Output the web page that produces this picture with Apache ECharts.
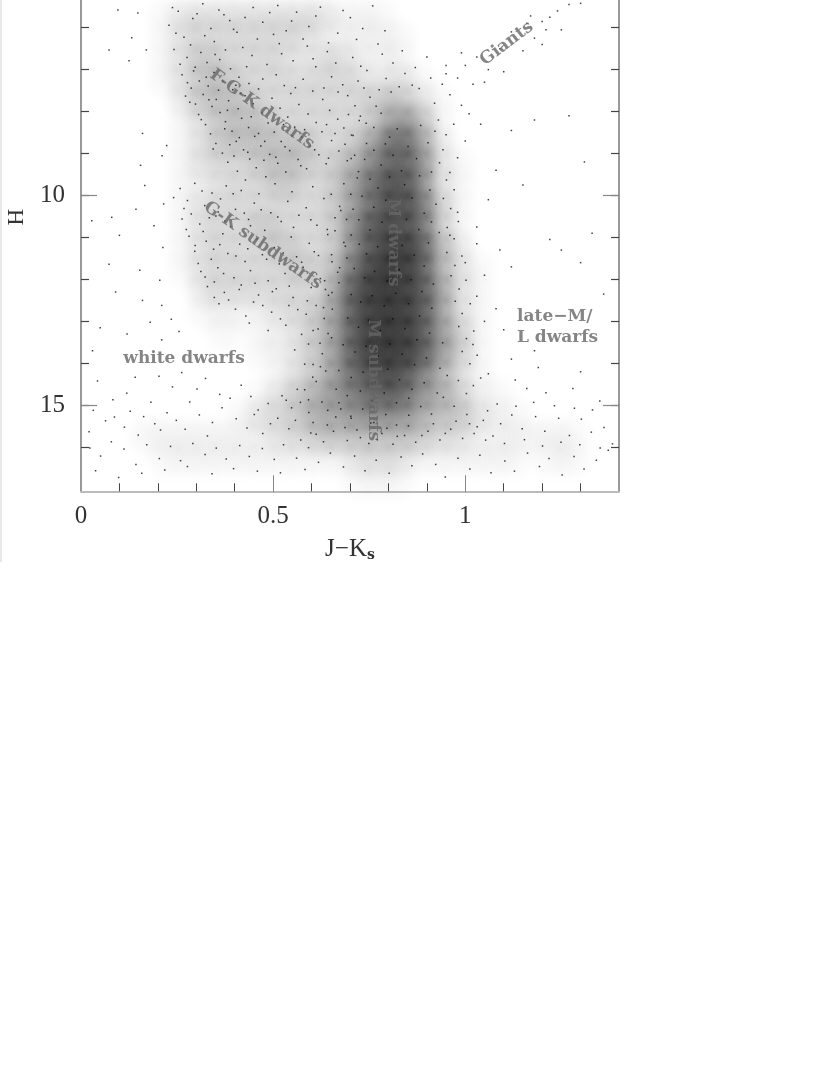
<!DOCTYPE html>
<html>
<head>
<meta charset="utf-8">
<title>H vs J-Ks</title>
<style>
    html, body { margin: 0; padding: 0; background: #fff; }
    #main { width: 830px; height: 1075px; }
</style>
</head>
<body>
<div id="main"></div>
<script src="https://cdn.jsdelivr.net/npm/echarts@6/dist/echarts.min.js"></script>
<script type="text/javascript">
// darkness of the star cloud, 0 (white) to 9 (black)
var densityCols = [.025,.075,.125,.175,.225,.275,.325,.375,.425,.475,.525,.575,.625,.675,.725,.775,.825,.875,.925,.975,1.025,1.075,1.125,1.175,1.225,1.275,1.325,1.375];
var densityRows = [5.25,5.75,6.25,6.75,7.25,7.75,8.25,8.75,9.25,9.75,10.25,10.75,11.25,11.75,12.25,12.75,13.25,13.75,14.25,14.75,15.25,15.75,16.25,16.75];
var density = [
    [0,0,0,0,1,2,2,2,2,2,2,2,2,1,1,1,0,0,0,0,0,0,0,0,0,0,0,0],
    [0,0,0,0,1,2,2,2,2,2,2,2,2,1,1,1,0,0,0,0,0,0,0,0,0,0,0,0],
    [0,0,0,0,1,2,2,2,2,2,2,2,1,1,1,1,1,0,0,0,0,0,0,0,0,0,0,0],
    [0,0,0,0,1,2,3,2,2,2,2,1,2,2,1,1,1,0,0,0,0,0,0,0,0,0,0,0],
    [0,0,0,0,1,2,3,3,2,2,2,2,2,2,2,1,2,1,0,0,0,0,0,0,0,0,0,0],
    [0,0,0,0,0,2,3,3,3,2,2,2,2,2,2,3,3,2,1,0,0,0,0,0,0,0,0,0],
    [0,0,0,0,0,1,2,3,3,3,2,2,2,2,2,3,5,4,1,0,0,0,0,0,0,0,0,0],
    [0,0,0,0,0,1,2,3,3,3,3,3,2,2,3,5,7,5,2,0,0,0,0,0,0,0,0,0],
    [0,0,0,0,0,1,2,2,2,3,3,3,2,3,4,6,7,6,2,1,0,0,0,0,0,0,0,0],
    [0,0,0,0,0,1,1,2,2,2,3,2,2,3,5,7,8,6,2,1,0,0,0,0,0,0,0,0],
    [0,0,0,0,0,1,2,2,2,2,2,2,2,3,5,7,8,7,3,1,0,0,0,0,0,0,0,0],
    [0,0,0,0,0,1,2,2,2,3,2,2,2,3,6,8,8,7,3,1,0,0,0,0,0,0,0,0],
    [0,0,0,0,0,1,2,2,2,2,3,2,2,3,6,8,9,8,4,2,0,0,0,0,0,0,0,0],
    [0,0,0,0,0,1,2,2,2,2,2,3,2,4,7,9,9,8,4,2,1,0,0,0,0,0,0,0],
    [0,0,0,0,0,0,2,2,2,2,2,2,2,5,8,9,9,8,5,2,1,0,0,0,0,0,0,0],
    [0,0,0,0,0,0,1,1,1,1,2,2,3,5,8,9,9,8,5,2,1,0,0,0,0,0,0,0],
    [0,0,0,0,0,0,0,1,0,1,1,2,3,5,8,9,9,8,5,3,1,0,0,0,0,0,0,0],
    [0,0,0,0,0,0,0,0,0,1,1,2,3,5,8,9,9,8,5,3,1,0,0,0,0,0,0,0],
    [0,0,0,0,0,0,0,0,0,0,1,2,3,5,7,8,8,6,4,2,1,0,0,0,0,0,0,0],
    [0,0,0,0,0,0,0,0,0,1,2,3,4,5,6,7,7,5,4,3,1,1,0,0,0,0,0,0],
    [0,0,0,0,0,0,0,0,1,2,2,3,4,4,5,5,5,4,3,3,2,1,1,0,0,0,0,0],
    [0,0,0,1,1,1,1,1,1,1,2,2,3,3,3,3,3,3,2,2,1,1,1,1,1,1,0,0],
    [0,0,0,0,1,1,1,1,1,1,1,1,1,1,2,2,2,1,1,1,1,1,1,0,1,1,0,0],
    [0,0,0,0,0,0,0,0,0,0,0,0,0,0,1,1,1,0,0,0,0,0,0,0,0,0,0,0]
];

// single stars, estimated by eye
var outlierStars = [[.096,5.58],[.17,6.53],[.125,6.79],[.073,6.53],[.148,5.65],[.132,6.24],[.223,8.81],[.211,9.05],[.166,9.76],[.143,10.33],[.215,10.2],[.08,10.52],[.028,10.6],[.213,11.24],[.073,11.64],[.153,11.78],[.205,12.02],[.16,8.52],[.155,9.28],[.19,10.72],[.1,10.95],[.09,12.3],[.16,12.5],[.21,12.62],[.05,13.15],[.18,13.02],[.235,12.95],[.03,13.7],[.21,13.44],[.255,13.24],[.12,13.3],
    [1.02,7.35],[1.12,8.45],[1.18,8.2],[1.0,8.7],[1.08,9.4],[1.15,9.75],[1.06,10.1],[.98,10.4],[1.03,10.75],[.96,10.95],[1.03,11.15],[1.09,11.3],[1.12,11.7],[1.22,11.05],[1.3,11.6],[1.0,11.6],[1.05,11.9],[1.27,8.1],[1.31,9.2],[1.25,11.3],[1.33,10.9],
    [1.03,12.4],[1.08,12.7],[1.05,13.0],[1.1,13.2],[1.02,13.55],[1.12,13.9],[1.19,14.1],[1.3,14.2],[1.36,12.35],[1.18,13.7],[1.06,14.25],[1.13,14.4],[1.21,14.7],[1.28,14.6],[1.35,14.9],[1.16,14.6],[1.04,14.35]];

var giantStars = [[1.0,6.9],[.98,7.2],[.94,7.35],[.96,7.6],[.92,7.8],[1.03,6.7],[1.06,7.0],[1.09,6.5],[1.12,6.1],[1.16,5.9],[1.2,5.85],[1.22,5.75],[1.24,5.6],[1.27,5.45],[1.3,5.42],[1.18,6.25],[1.15,6.55],[1.2,6.4],[1.25,6.05],[1.17,5.72],[1.21,6.05],[1.1,7.05],[1.05,7.3],[.99,7.85],[1.01,8.05],[.93,8.2],[.97,8.3],[.95,8.55],[.98,9.1],[.96,9.45],[1.04,8.3],[.99,6.6],[.95,6.9],[.9,6.7],[.87,6.95],[.91,7.2],[.88,7.45],[.95,7.1]];

var fgkStars = [[.317,5.43],[.253,5.61],[.448,5.52],[.291,5.78],[.372,5.69],[.512,5.47],[.229,5.94],[.338,6.02],[.473,5.87],[.561,5.63],[.406,6.11],[.268,6.23],[.623,5.51],[.534,6.07],[.387,5.83],[.701,5.76],[.285,6.41],[.347,6.33],[.459,6.27],[.593,5.97],[.242,6.52],[.312,6.59],[.421,6.47],[.668,6.13],[.516,6.38],[.733,6.02],[.276,6.71],[.361,6.76],[.297,6.94],[.328,6.83],[.445,6.66],[.589,6.44],[.389,6.98],[.263,7.12],[.346,7.07],[.308,7.27],[.484,6.88],[.641,6.57],[.552,6.79],[.411,7.18],[.287,7.44],[.331,7.39],[.369,7.28],[.272,7.63],[.318,7.59],[.395,7.48],[.352,7.71],[.437,7.33],[.508,7.12],[.611,6.93],[.707,6.71],[.773,6.39],[.298,7.82],[.341,7.88],[.384,7.74],[.427,7.62],[.462,7.46],[.529,7.38],[.578,7.23],[.652,7.17],[.744,7.02],[.812,6.84],[.306,8.07],[.362,8.02],[.409,7.93],[.448,7.81],[.497,7.68],[.546,7.57],[.603,7.51],[.681,7.36],[.736,7.44],[.794,7.21],[.843,7.09],[.324,8.31],[.376,8.24],[.418,8.16],[.471,8.03],[.518,7.92],[.567,7.83],[.629,7.71],[.694,7.62],[.752,7.66],[.807,7.53],[.862,7.37],[.337,8.53],[.393,8.47],[.436,8.38],[.487,8.27],[.538,8.13],[.591,8.06],[.647,7.97],[.713,7.86],[.351,8.76],[.404,8.71],[.452,8.59],[.503,8.49],[.556,8.37],[.612,8.26],[.668,8.18],[.727,8.11],[.368,8.99],[.423,8.91],[.468,8.82],[.521,8.71],[.574,8.61],[.627,8.48],[.684,8.39],[.382,9.21],[.439,9.13],[.491,9.02],[.543,8.93],[.596,8.82],[.652,8.69],[.704,8.56],[.407,9.42],[.456,9.34],[.512,9.23],[.565,9.14],[.619,9.03],[.671,8.94],[.428,9.63],[.481,9.55],[.533,9.44],[.587,9.36],[.638,9.24],[.693,9.17],
    [.238,5.52],[.302,5.67],[.359,5.58],[.427,5.76],[.491,5.64],[.548,5.84],[.611,5.72],[.682,5.59],[.759,5.48],[.247,6.13],[.322,6.19],[.397,6.04],[.501,6.16],[.578,6.27],[.644,6.36],[.717,6.28],[.791,6.07],[.258,6.87],[.293,7.03],[.349,6.64],[.376,6.53],[.431,6.93],[.522,6.62],[.604,6.74],[.663,6.84],[.728,6.92],[.784,6.63],[.836,6.55],[.277,7.31],[.283,7.78],[.326,7.18],[.358,7.49],[.403,7.37],[.416,7.56],[.473,7.22],[.558,7.43],[.632,7.44],[.669,7.53],[.721,7.27],[.776,7.48],[.828,7.41],[.313,8.19],[.333,7.72],[.374,8.41],[.381,7.97],[.412,8.62],[.443,8.12],[.462,8.52],[.478,8.71],[.527,8.31],[.549,8.58],[.582,8.43],[.639,8.31],[.661,8.52],[.696,8.07],[.742,8.28],[.768,7.87],[.344,8.89],[.387,8.79],[.398,9.06],[.434,8.97],[.476,9.16],[.507,9.09],[.531,8.84],[.572,9.29],[.608,8.91],[.644,9.11],[.687,8.78],[.712,9.04]];

var subdwarfStars = [[.258,9.83],[.296,9.71],[.341,9.94],[.378,9.77],[.417,9.88],[.463,9.96],[.505,9.72],[.549,9.91],[.603,9.79],[.651,9.97],[.277,10.12],[.322,10.24],[.363,10.08],[.402,10.33],[.451,10.18],[.494,10.41],[.538,10.14],[.586,10.29],[.632,10.07],[.676,10.36],[.263,10.56],[.309,10.68],[.351,10.49],[.389,10.74],[.436,10.57],[.478,10.83],[.521,10.62],[.567,10.47],[.614,10.71],[.661,10.53],[.281,10.97],[.326,11.09],[.369,10.91],[.413,11.16],[.458,11.03],[.503,11.24],[.547,10.99],[.594,11.14],[.642,10.93],[.688,11.21],[.296,11.33],[.339,11.52],[.382,11.38],[.427,11.57],[.472,11.41],[.516,11.63],[.561,11.46],[.607,11.34],[.653,11.58],[.312,11.81],[.356,11.72],[.398,11.96],[.441,11.79],[.487,12.03],[.531,11.86],[.578,11.71],[.623,11.98],[.668,11.83],[.329,12.17],[.373,12.31],[.417,12.13],[.462,12.37],[.508,12.22],[.552,12.43],[.599,12.19],[.644,12.38],[.359,12.58],[.402,12.71],[.449,12.54],[.496,12.78],[.541,12.62],[.586,12.83],[.631,12.67],[.438,13.04],[.487,13.22],[.533,13.09],[.574,13.31],[.617,13.18],[.652,13.39],[.556,13.68],[.592,13.54],[.628,13.77],[.604,14.03],[.637,14.18],
    [.241,10.05],[.268,10.31],[.287,10.44],[.315,9.89],[.334,10.53],[.357,10.39],[.374,10.61],[.396,9.96],[.425,10.42],[.441,10.72],[.469,10.34],[.512,10.51],[.553,10.76],[.598,10.58],[.641,10.81],[.274,10.81],[.297,11.19],[.318,10.86],[.345,11.28],[.361,11.17],[.403,11.44],[.434,11.27],[.483,11.52],[.526,11.37],[.574,11.59],[.618,11.43],[.305,11.62],[.323,11.94],[.347,12.06],[.371,11.86],[.412,12.24],[.453,12.09],[.498,12.29],[.542,12.16],[.589,12.51],[.636,12.24],[.347,12.43],[.384,12.49],[.429,12.87],[.473,12.62],[.519,12.94],[.564,12.72]];

var bottomStars = [[.032,15.12],[.064,15.37],[.021,15.63],[.087,15.28],[.128,15.14],[.113,15.52],[.163,15.27],[.192,15.44],[.149,15.71],[.224,15.18],[.248,15.36],[.207,15.59],[.283,14.92],[.308,15.23],[.271,15.57],[.342,15.41],[.367,15.06],[.329,15.73],[.404,15.32],[.432,15.54],[.388,14.83],[.461,15.11],[.493,15.44],[.442,14.79],[.119,14.71],[.182,14.93],[.238,14.56],[.302,14.61],[.361,14.74],[.417,14.52],[.083,14.87],[.043,14.42],[.203,14.31],[.262,14.22],[.324,14.36],[.141,14.33],[.023,16.02],[.051,16.21],[.079,15.87],[.038,16.56],[.112,16.04],[.143,16.41],[.098,16.72],[.171,15.94],[.204,16.27],[.158,16.62],[.233,15.98],[.259,16.32],[.218,16.54],[.291,15.91],[.323,16.17],[.277,16.46],[.352,16.02],[.378,16.28],[.341,16.63],[.413,15.96],[.438,16.22],[.397,16.51],[.472,16.03],[.503,16.29],[.459,16.57],[.527,15.94],[.561,16.26],[.519,16.61],[.592,16.01],[.618,16.36],[.583,16.53],[.649,16.14],[.683,16.47],[.712,16.21],[.739,16.56],[.768,16.31],[.802,16.62],[.833,16.23],[.861,16.44],[.889,16.16],[.923,16.41],[.948,16.71],[.981,16.26],[1.012,16.52],[1.038,16.19],[1.067,16.61],[1.103,16.33],[1.128,16.57],[1.162,16.14],[1.193,16.46],[1.218,16.27],[1.252,16.66],[1.283,16.22],[1.309,16.52],[1.341,16.31],[1.372,16.07],
    [1.004,15.22],[1.031,15.51],[1.058,15.13],[1.092,15.44],[1.121,15.23],[1.148,15.56],[1.183,15.27],[1.207,15.62],[1.243,15.31],[1.271,15.72],[1.302,15.33],[1.328,15.64],[1.361,15.53],[1.383,15.92],[1.053,15.83],[1.102,15.91],[1.154,15.82],[1.201,15.97],[1.249,15.88],[1.298,15.94],[1.351,16.02],[1.083,14.97],[1.132,15.02],[1.178,14.93],[1.232,15.01],[1.284,15.07],[1.331,15.11],
    [.523,14.77],[.548,15.06],[.582,14.63],[.604,15.41],[.627,14.92],[.663,15.28],[.541,15.56],[.572,15.83],[.598,15.66],[.631,15.87],[.657,15.62],[.693,15.84],[.718,15.59],[.749,15.91],[.783,15.67],[.812,15.93],[.842,15.72],[.871,15.88],[.903,15.62],[.934,15.83],[.962,15.57],[.993,15.79],[1.023,15.67],
    [.451,15.22],[.473,15.67],[.487,14.96],[.512,15.31],[.534,14.88],[.558,15.36],[.571,14.93],[.593,15.17],[.612,15.69],[.641,15.47],[.676,15.09],[.687,15.53],[.703,15.31],[.727,15.77],[.754,15.42],[.771,15.82],[.796,15.55],[.823,15.74],[.852,15.49],[.887,15.72],[.917,15.44],[.948,15.67],[.976,15.38],[1.011,15.44],[1.047,15.36],[1.072,15.73]];

// clumps in the dense M dwarf column
var mDwarfStars = [[.708,8.57],[.724,8.21],[.743,8.76],[.762,8.38],[.781,8.04],[.803,8.61],[.884,8.33],[.903,8.74],[.921,8.47],[.942,8.91],[.703,9.12],[.722,9.43],[.738,9.14],[.933,9.22],[.951,9.63],[.912,9.44],[.971,9.86],[.684,9.72],[.702,9.97],[.719,9.58],[.943,10.07],[.962,10.31],[.924,10.21],[.982,10.62],[.673,10.26],[.691,10.57],[.708,10.33],[.953,10.76],[.971,11.03],[.932,10.88],[.661,10.84],[.684,11.12],[.703,10.94],[.952,11.36],[.973,11.67],[.991,11.44],[.652,11.41],[.673,11.72],[.692,11.49],[.963,11.91],[.984,12.23],[1.002,12.02],[.634,12.03],[.653,12.31],[.671,12.08],[.974,12.52],[.992,12.81],[1.013,12.58],[.612,12.62],[.633,12.93],[.654,12.71],[.983,13.12],[1.003,13.41],[1.022,13.23],[.604,13.22],[.622,13.52],[.643,13.29],[.992,13.72],[1.012,14.01],[1.031,13.81],[.582,14.02],[.603,14.33],[.623,14.08],[.982,14.41],[1.003,14.72],[1.021,14.53],[.563,14.62],[.592,14.87],[.612,14.43],[.971,15.02],[.943,14.81],[.912,15.21],[.884,15.03],[.642,15.12],[.671,14.94],[.702,15.26],[.733,15.09],[.762,15.41],[.793,15.22],[.821,15.47],[.853,15.24],
    [.762,8.92],[.792,8.77],[.823,8.41],[.851,8.83],[.873,9.12],[.781,9.27],[.812,9.04],[.834,9.41],[.752,9.61],[.773,9.82],[.803,9.56],[.842,9.74],[.881,9.53],[.908,9.87],[.731,10.02],[.762,10.28],[.793,10.11],[.824,10.37],[.861,10.06],[.893,10.42],[.912,10.63],[.723,10.58],[.752,10.82],[.783,10.64],[.814,10.89],[.847,10.57],[.879,10.81],[.904,11.13],[.724,11.16],[.743,11.39],[.772,11.22],[.803,11.47],[.836,11.19],[.867,11.42],[.893,11.68],[.711,11.74],[.738,11.96],[.764,11.81],[.797,12.04],[.828,11.77],[.859,12.01],[.887,12.29],[.917,12.11],[.703,12.36],[.728,12.54],[.758,12.39],[.789,12.63],[.819,12.33],[.852,12.58],[.881,12.87],[.913,12.69],[.694,12.92],[.722,13.14],[.748,12.97],[.779,13.22],[.811,12.94],[.843,13.17],[.874,13.44],[.907,13.28],[.941,13.51],[.682,13.56],[.713,13.73],[.742,13.59],[.773,13.82],[.804,13.54],[.836,13.78],[.868,14.03],[.899,13.87],[.934,14.12],[.671,14.17],[.703,14.34],[.734,14.21],[.766,14.43],[.798,14.14],[.829,14.39],[.861,14.62],[.893,14.46],[.927,14.71],[.953,14.29],[.664,14.62],[.693,14.77],[.727,14.66],[.758,14.89],[.789,14.71],[.821,14.94],[.853,14.83]];

// labels on the cloud
var noteX = [.268,1.233,1.24,1.108,.471,.473,.812,.76];
var noteH = [13.88,12.88,13.38,6.38,7.95,11.19,11.12,14.4];
var noteText = ['white dwarfs','late\u2212M/','L dwarfs','Giants','F-G-K dwarfs','G-K subdwarfs','M dwarfs','M subdwarfs'];
var noteAngle = [0,0,0,37,-36,-35,-90,-90];

var xMinorTicks = [.1,.2,.3,.4,.5,.6,.7,.8,.9,1,1.1,1.2,1.3];
var xMajorTicks = [.5,1];
var xLabels = [0,.5,1];
var yMinorTicks = [6,7,8,9,10,11,12,13,14,15,16];
var yMajorTicks = [10,15];

var densityData = [];
for (var r = 0; r < densityRows.length; r++) {
    for (var c = 0; c < densityCols.length; c++) {
        if (density[r][c] > 0) {
            densityData.push({
                value: [densityCols[c], densityRows[r]],
                // blobs overlap, so light cells need less than their share
                itemStyle: { opacity: Math.pow(density[r][c] / 9, 1.3) }
            });
        }
    }
}

var noteData = [];
for (var i = 0; i < noteText.length; i++) {
    noteData.push({
        value: [noteX[i], noteH[i]],
        label: { formatter: noteText[i], rotate: noteAngle[i] }
    });
}

function starSeries(data, size) {
    return {
        type: 'scatter',
        xAxisIndex: 0,
        yAxisIndex: 0,
        data: data,
        symbol: 'rect',
        symbolSize: size,
        silent: true,
        z: 3,
        itemStyle: { color: '#000', opacity: 0.75 }
    };
}

function xAxisOf(gridIndex, ticks, len, color, labels) {
    return {
        type: 'value',
        gridIndex: gridIndex,
        position: 'bottom',
        min: 0,
        max: 1.4,
        splitLine: { show: false },
        axisLine: { show: gridIndex == 0, onZero: false, lineStyle: { color: '#bbb', width: 2 } },
        axisTick: { show: true, inside: true, length: len, customValues: ticks, lineStyle: { color: color, width: 1 } },
        axisLabel: labels ? {
            show: true, customValues: labels, margin: 13,
            fontFamily: 'Liberation Serif', fontSize: 25, color: '#333',
            formatter: function (v) { return String(v); }
        } : { show: false },
        name: labels ? '{n|J\u2212K}{s|s}' : '',
        nameLocation: 'middle',
        nameGap: 46,
        nameTextStyle: {
            rich: {
                n: { fontFamily: 'Liberation Serif', fontSize: 25, color: '#333' },
                s: { fontFamily: 'DejaVu Serif', fontSize: 14, fontWeight: 'bold', color: '#333', verticalAlign: 'bottom', padding: [10, 0, 0, 0] }
            }
        }
    };
}

function yAxisOf(gridIndex, pos, ticks, len, color, labels) {
    return {
        type: 'value',
        gridIndex: gridIndex,
        position: pos,
        inverse: true,
        min: 5.34,
        max: 17.05,
        splitLine: { show: false },
        axisLine: { show: gridIndex == 0, onZero: false, lineStyle: { color: '#777', width: 1.5 } },
        axisTick: { show: true, inside: true, length: len, customValues: ticks, lineStyle: { color: color, width: 1.2 } },
        axisLabel: labels ? {
            show: true, customValues: labels, margin: 16,
            fontFamily: 'Liberation Serif', fontSize: 25, color: '#333'
        } : { show: false }
    };
}

var myChart = echarts.init(document.getElementById('main'));

var gridRect = { left: 81, top: 0, width: 538, height: 491.3 };

var option = {
    animation: false,
    backgroundColor: '#fff',
    grid: [gridRect, gridRect],
    xAxis: [
        xAxisOf(0, xMinorTicks, 8, '#444', xLabels),
        xAxisOf(1, xMajorTicks, 16, '#888', null)
    ],
    yAxis: [
        yAxisOf(0, 'left', yMinorTicks, 8, '#444', yMajorTicks),
        yAxisOf(0, 'right', yMinorTicks, 8, '#444', null),
        yAxisOf(1, 'left', yMajorTicks, 16, '#888', null),
        yAxisOf(1, 'right', yMajorTicks, 16, '#888', null)
    ],
    graphic: [
        { type: 'rect', left: 0, top: 0, shape: { width: 2, height: 562 }, style: { fill: '#e8e8e8' } },
        { type: 'text', left: 5, top: 209, rotation: Math.PI / 2, style: { text: 'H', font: '23px "Liberation Serif"', fill: '#333' } }
    ],
    series: [
        {
            type: 'scatter',
            xAxisIndex: 0,
            yAxisIndex: 0,
            data: densityData,
            symbol: 'circle',
            symbolSize: 54,
            silent: true,
            z: 1,
            itemStyle: {
                color: {
                    type: 'radial', x: 0.5, y: 0.5, r: 0.5,
                    colorStops: [
                        { offset: 0, color: 'rgba(0,0,0,0.55)' },
                        { offset: 0.5, color: 'rgba(0,0,0,0.36)' },
                        { offset: 0.8, color: 'rgba(0,0,0,0.1)' },
                        { offset: 1, color: 'rgba(0,0,0,0)' }
                    ]
                }
            }
        },
        starSeries(outlierStars, 1.5),
        starSeries(giantStars, 1.5),
        starSeries(fgkStars, 1.5),
        starSeries(subdwarfStars, 1.5),
        starSeries(bottomStars, 1.5),
        starSeries(mDwarfStars, 1.5),
        {
            type: 'scatter',
            xAxisIndex: 0,
            yAxisIndex: 0,
            data: noteData,
            symbolSize: 0,
            silent: true,
            z: 5,
            label: {
                show: true,
                position: 'inside',
                fontFamily: 'DejaVu Serif',
                fontWeight: 'bold',
                fontSize: 17,
                color: '#666'
            }
        }
    ]
};

myChart.setOption(option);
</script>
</body>
</html>
